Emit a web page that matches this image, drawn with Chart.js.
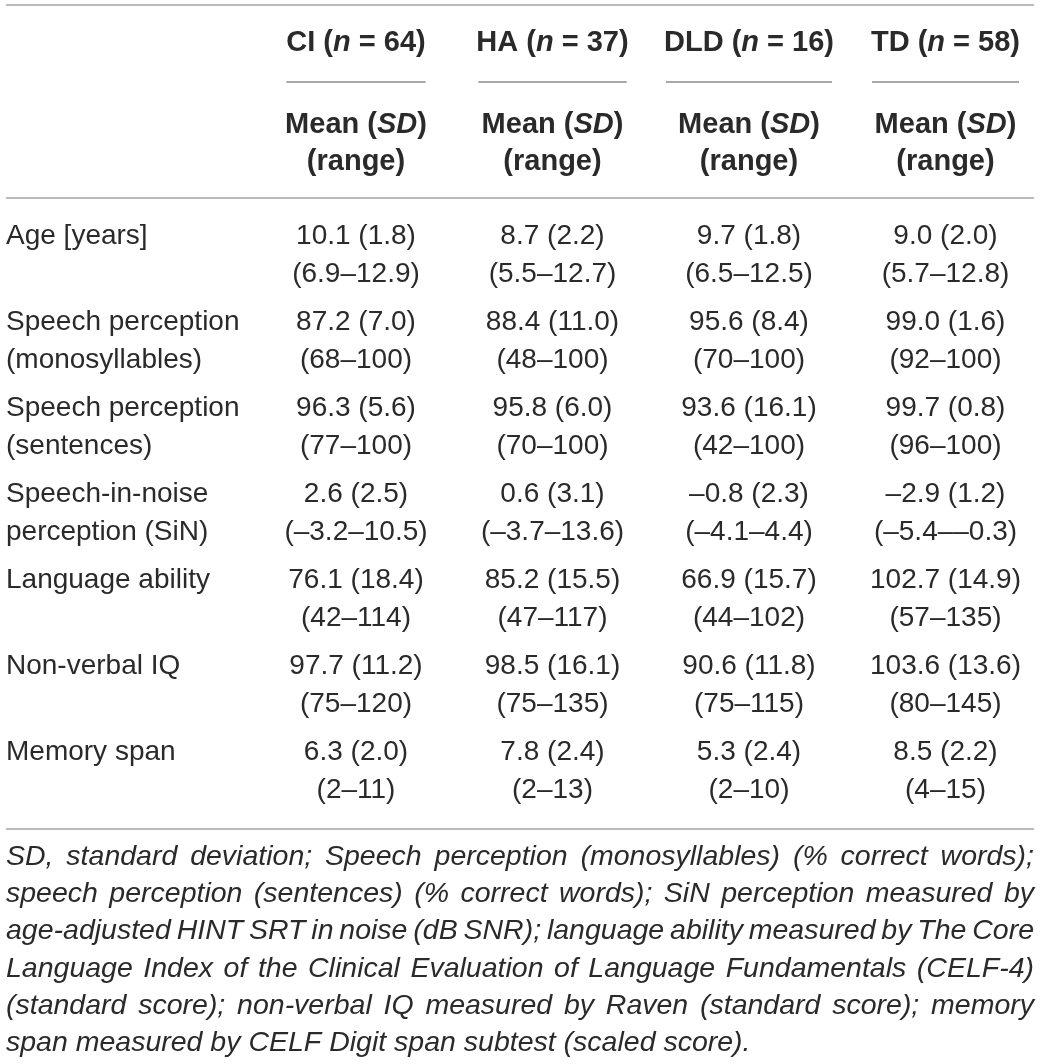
<!DOCTYPE html>
<html>
<head>
<meta charset="utf-8">
<script src="https://cdn.jsdelivr.net/npm/chart.js@4.4.1/dist/chart.umd.min.js"></script>
<style>
  html, body { margin: 0; padding: 0; background: #fff; }
  canvas { display: block; }
</style>
</head>
<body>
<canvas id="tableChart" width="1041" height="1064"></canvas>
<script>
const groups = ["CI", "HA", "DLD", "TD"];
const groupN = [64, 37, 16, 58];
const rowLabels = [
  ["Age [years]"],
  ["Speech perception", "(monosyllables)"],
  ["Speech perception", "(sentences)"],
  ["Speech-in-noise", "perception (SiN)"],
  ["Language ability"],
  ["Non-verbal IQ"],
  ["Memory span"]
];
// decimals used for the range line of each row
const rangeDecimals = [1, 0, 0, 1, 0, 0, 0];

const ciMean = [10.1, 87.2, 96.3, 2.6, 76.1, 97.7, 6.3];
const ciSD = [1.8, 7.0, 5.6, 2.5, 18.4, 11.2, 2.0];
const ciMin = [6.9, 68, 77, -3.2, 42, 75, 2];
const ciMax = [12.9, 100, 100, 10.5, 114, 120, 11];

const haMean = [8.7, 88.4, 95.8, 0.6, 85.2, 98.5, 7.8];
const haSD = [2.2, 11.0, 6.0, 3.1, 15.5, 16.1, 2.4];
const haMin = [5.5, 48, 70, -3.7, 47, 75, 2];
const haMax = [12.7, 100, 100, 13.6, 117, 135, 13];

const dldMean = [9.7, 95.6, 93.6, -0.8, 66.9, 90.6, 5.3];
const dldSD = [1.8, 8.4, 16.1, 2.3, 15.7, 11.8, 2.4];
const dldMin = [6.5, 70, 42, -4.1, 44, 75, 2];
const dldMax = [12.5, 100, 100, 4.4, 102, 115, 10];

const tdMean = [9.0, 99.0, 99.7, -2.9, 102.7, 103.6, 8.5];
const tdSD = [2.0, 1.6, 0.8, 1.2, 14.9, 13.6, 2.2];
const tdMin = [5.7, 92, 96, -5.4, 57, 80, 4];
const tdMax = [12.8, 100, 100, -0.3, 135, 145, 15];

const footnoteLines = [
  "SD, standard deviation; Speech perception (monosyllables) (% correct words);",
  "speech perception (sentences) (% correct words); SiN perception measured by",
  "age-adjusted HINT SRT in noise (dB SNR); language ability measured by The Core",
  "Language Index of the Clinical Evaluation of Language Fundamentals (CELF-4)",
  "(standard score); non-verbal IQ measured by Raven (standard score); memory",
  "span measured by CELF Digit span subtest (scaled score)."
];

const groupValues = [
  [ciMean, ciSD, ciMin, ciMax],
  [haMean, haSD, haMin, haMax],
  [dldMean, dldSD, dldMin, dldMax],
  [tdMean, tdSD, tdMin, tdMax]
];
const rowNames = rowLabels.map(l => l.join(" "));

const FONT = "'Liberation Sans', Arial, Helvetica, sans-serif";
const TEXT = "#2a2a2a";
const RULE = "#a3a3a3";

function fmt(v, d) {
  return (v < 0 ? "\u2013" : "") + Math.abs(v).toFixed(d);
}

function drawRuns(ctx, runs, cx, y) {
  let total = 0;
  const widths = runs.map(r => {
    ctx.font = (r.italic ? "italic " : "") + "bold 29px " + FONT;
    const w = ctx.measureText(r.t).width;
    total += w;
    return w;
  });
  let x = cx - total / 2;
  runs.forEach((r, i) => {
    ctx.font = (r.italic ? "italic " : "") + "bold 29px " + FONT;
    ctx.textAlign = "left";
    ctx.fillText(r.t, x, y);
    x += widths[i];
  });
  return total;
}

function drawJustified(ctx, text, x0, x1, y, justify) {
  const words = text.split(" ");
  const widths = words.map(w => ctx.measureText(w).width);
  const total = widths.reduce((a, b) => a + b, 0);
  const gap = justify ? (x1 - x0 - total) / (words.length - 1) : ctx.measureText(" ").width;
  let x = x0;
  words.forEach((w, i) => {
    ctx.fillText(w, x, y);
    x += widths[i] + gap;
  });
}

function hRule(ctx, x0, x1, y) {
  ctx.beginPath();
  ctx.moveTo(x0, y);
  ctx.lineTo(x1, y);
  ctx.stroke();
}

const tablePlugin = {
  id: "tableText",
  afterDatasetsDraw(chart) {
    const ctx = chart.ctx;
    const xs = chart.scales.x;
    const ys = chart.scales.y;
    ctx.save();
    ctx.fillStyle = TEXT;
    ctx.textBaseline = "middle";

    // rules
    ctx.strokeStyle = RULE;
    ctx.lineWidth = 1.5;
    hRule(ctx, 6, 1034, 5);
    hRule(ctx, 6, 1034, 198);
    hRule(ctx, 6, 1034, 829);

    // column headers + cells
    groups.forEach((g, gi) => {
      const cx = xs.getPixelForValue(gi);
      const w1 = drawRuns(ctx, [{ t: g + " (" }, { t: "n", italic: true }, { t: " = " + groupN[gi] + ")" }], cx, 43);
      const w2 = drawRuns(ctx, [{ t: "Mean (" }, { t: "SD", italic: true }, { t: ")" }], cx, 125);
      drawRuns(ctx, [{ t: "(range)" }], cx, 162);

      ctx.font = "28px " + FONT;
      ctx.textAlign = "center";
      let maxW = Math.max(w1, w2);
      const meta = chart.getDatasetMeta(gi);
      meta.data.forEach((pt, ri) => {
        const raw = chart.data.datasets[gi].data[ri];
        const d = rangeDecimals[ri];
        const line1 = fmt(raw.mean, 1) + " (" + raw.sd.toFixed(1) + ")";
        const line2 = "(" + fmt(raw.min, d) + "\u2013" + fmt(raw.max, d) + ")";
        ctx.fillText(line1, pt.x, pt.y - 19);
        ctx.fillText(line2, pt.x, pt.y + 19);
        maxW = Math.max(maxW, ctx.measureText(line1).width, ctx.measureText(line2).width);
      });
      ctx.strokeStyle = "#8a8a8a";
      hRule(ctx, cx - maxW / 2 + 2, cx + maxW / 2 - 2, 82);
    });

    // row labels
    ctx.font = "28px " + FONT;
    ctx.textAlign = "left";
    rowLabels.forEach((lines, ri) => {
      const cy = ys.getPixelForValue(ri);
      lines.forEach((t, k) => ctx.fillText(t, 6, cy - 19 + 38 * k));
    });

    // footnote
    ctx.font = "italic 28.5px " + FONT;
    footnoteLines.forEach((t, k) => {
      drawJustified(ctx, t, 6, 1034, 857 + 37.2 * k, k < footnoteLines.length - 1);
    });
    ctx.restore();
  }
};

new Chart(document.getElementById("tableChart"), {
  type: "scatter",
  data: {
    datasets: groups.map((g, gi) => ({
      label: g,
      data: rowNames.map((r, ri) => ({
        x: g,
        y: r,
        mean: groupValues[gi][0][ri],
        sd: groupValues[gi][1][ri],
        min: groupValues[gi][2][ri],
        max: groupValues[gi][3][ri]
      })),
      pointRadius: 0,
      pointHoverRadius: 0
    }))
  },
  options: {
    responsive: false,
    animation: false,
    devicePixelRatio: 1,
    events: [],
    layout: { padding: { left: 356, right: 95.5, top: 255, bottom: 293 } },
    scales: {
      x: { type: "category", labels: groups, offset: false, display: false },
      y: { type: "category", labels: rowNames, offset: false, display: false }
    },
    plugins: {
      legend: { display: false },
      tooltip: { enabled: false }
    }
  },
  plugins: [tablePlugin]
});
</script>
</body>
</html>
